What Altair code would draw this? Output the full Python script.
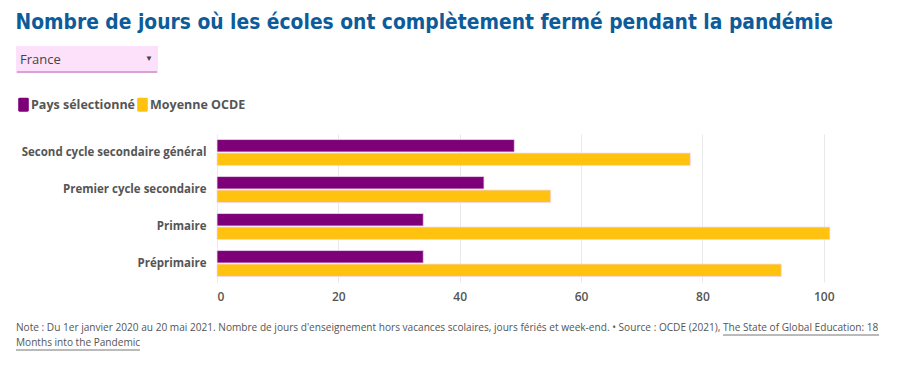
import altair as alt
import pandas as pd

categories = ["Second cycle secondaire général", "Premier cycle secondaire", "Primaire", "Préprimaire"]
series = ["Pays sélectionné", "Moyenne OCDE"]
pays_values = [49, 44, 34, 34]
ocde_values = [78, 55, 101, 93]
x_ticks = [0, 20, 40, 60, 80, 100]
colors = ["#7d0078", "#ffc20e"]

title_text = "Nombre de jours où les écoles ont complètement fermé pendant la pandémie"
dropdown_text = "France"
note_line1 = "Note : Du 1er janvier 2020 au 20 mai 2021. Nombre de jours d'enseignement hors vacances scolaires, jours fériés et week-end. • Source : OCDE (2021), The State of Global Education: 18"
note_line2 = "Months into the Pandemic"

rows = []
for c, p, o in zip(categories, pays_values, ocde_values):
    rows.append({"cat": c, "serie": series[0], "val": p})
    rows.append({"cat": c, "serie": series[1], "val": o})
df = pd.DataFrame(rows)

W, H = 625, 148
LEFT = -201  # page x 15 relative to plot origin

rounded = "M -0.55,-1 L 0.55,-1 Q 0.75,-1 0.75,-0.8 L 0.75,0.8 Q 0.75,1 0.55,1 L -0.55,1 Q -0.75,1 -0.75,0.8 L -0.75,-0.8 Q -0.75,-1 -0.55,-1 Z"

bars = alt.Chart(df).mark_bar(stroke="#f3d9f0", strokeWidth=0.8).encode(
    y=alt.Y("cat:N", sort=categories, title=None,
            scale=alt.Scale(paddingInner=0.3, paddingOuter=0.15),
            axis=alt.Axis(labelFont="Open Sans", labelFontSize=11.5, labelFontWeight="bold",
                          labelColor="#555555", ticks=False, domain=False, labelPadding=11,
                          labelLimit=300)),
    yOffset=alt.YOffset("serie:N", sort=series, scale=alt.Scale(paddingInner=0.08)),
    x=alt.X("val:Q", title=None,
            scale=alt.Scale(domain=[0, 103], nice=False),
            axis=alt.Axis(values=x_ticks, labelFont="Open Sans", labelFontSize=12,
                          labelFontWeight=600, labelColor="#555555", ticks=False, domain=False,
                          grid=True, gridColor="#e9e9e9", labelPadding=9)),
    color=alt.Color("serie:N", sort=series,
                    scale=alt.Scale(domain=series, range=colors),
                    legend=alt.Legend(title=None, orient="none", direction="horizontal",
                                      legendX=LEFT, legendY=-37, symbolType=rounded,
                                      symbolSize=200, symbolStrokeWidth=0, symbolOpacity=1,
                                      labelFont="Open Sans", labelFontSize=12.5,
                                      labelFontWeight="bold", labelColor="#555555",
                                      columnPadding=0, labelOffset=0)),
)

deco = pd.DataFrame({"t": [dropdown_text]})
dd_box = alt.Chart(deco).mark_rect(fill="#fde1fb").encode(
    x=alt.value(LEFT), x2=alt.value(LEFT + 142), y=alt.value(-88), y2=alt.value(-61))
dd_line = alt.Chart(deco).mark_rule(color="#cc8ccb", strokeWidth=1.5).encode(
    x=alt.value(LEFT + 1), x2=alt.value(LEFT + 141), y=alt.value(-62))
dd_text = alt.Chart(deco).mark_text(align="left", baseline="middle", font="Open Sans",
                                    fontSize=13, color="#444444").encode(
    x=alt.value(LEFT + 4), y=alt.value(-74), text="t:N")
dd_arrow = alt.Chart(deco).mark_text(align="center", baseline="middle", fontSize=8,
                                     color="#444444").encode(
    x=alt.value(LEFT + 133), y=alt.value(-75), text=alt.value("▼"))

n1 = pd.DataFrame({"t": [note_line1]})
n2 = pd.DataFrame({"t": [note_line2]})
note_style = dict(align="left", baseline="middle", font="Open Sans", fontSize=10.1, color="#555555")
note1 = alt.Chart(n1).mark_text(**note_style).encode(x=alt.value(LEFT), y=alt.value(194), text="t:N")
note2 = alt.Chart(n2).mark_text(**note_style).encode(x=alt.value(LEFT), y=alt.value(209), text="t:N")
ul1 = alt.Chart(n1).mark_rule(color="#777777", strokeWidth=1).encode(
    x=alt.value(LEFT + 707), x2=alt.value(LEFT + 863), y=alt.value(201))
ul2 = alt.Chart(n2).mark_rule(color="#777777", strokeWidth=1).encode(
    x=alt.value(LEFT), x2=alt.value(LEFT + 124), y=alt.value(216))

chart = alt.layer(dd_box, dd_line, dd_text, dd_arrow, bars, note1, note2, ul1, ul2).properties(
    width=W, height=H,
    title=alt.TitleParams(title_text, anchor="start", frame="bounds",
                          font="DejaVu Sans Condensed, Roboto, sans-serif",
                          fontSize=20.8, fontWeight="bold", color="#0d5c99", offset=12),
).configure(
    padding={"left": 7, "top": 4, "right": 0, "bottom": 0},
    view=alt.ViewConfig(stroke=None),
)

chart.save("out.html", embed_options={"renderer": "svg", "actions": False})
